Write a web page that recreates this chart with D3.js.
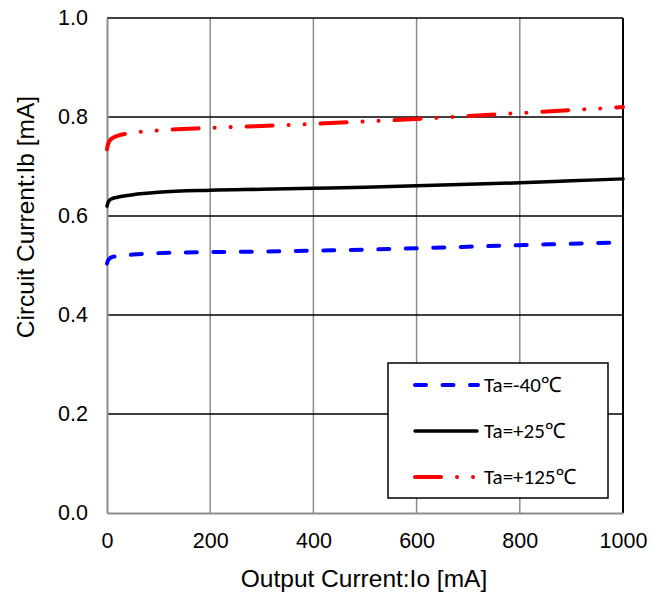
<!DOCTYPE html>
<html>
<head>
<meta charset="utf-8">
<script src="https://cdn.jsdelivr.net/npm/d3@7"></script>
<style>
  body { margin: 0; background: #fff; }
  svg { display: block; }
</style>
</head>
<body>
<div id="chart"></div>
<script>
const outputCurrent = [0, 2, 5, 10, 20, 50, 100, 200, 300, 400, 500, 600, 700, 800, 900, 1000];
const taMinus40 = [0.504, 0.510, 0.514, 0.517, 0.519, 0.522, 0.525, 0.527, 0.528, 0.530, 0.532, 0.535, 0.538, 0.541, 0.544, 0.547];
const taPlus25 = [0.620, 0.627, 0.632, 0.635, 0.638, 0.643, 0.648, 0.652, 0.654, 0.656, 0.658, 0.661, 0.664, 0.667, 0.671, 0.675];
const taPlus125 = [0.735, 0.745, 0.752, 0.757, 0.762, 0.768, 0.773, 0.778, 0.782, 0.786, 0.791, 0.796, 0.802, 0.808, 0.814, 0.820];
const seriesNames = ['Ta=-40\u2103', 'Ta=+25\u2103', 'Ta=+125\u2103'];
const xTicks = [0, 200, 400, 600, 800, 1000];
const yTicks = [0, 0.2, 0.4, 0.6, 0.8, 1.0];

const width = 665, height = 593;
const margin = { left: 107, right: 42, top: 18, bottom: 80 };
const chartWidth = width - margin.left - margin.right;
const chartHeight = height - margin.top - margin.bottom;

const AXIS_FONT = '"Liberation Sans", Arial, sans-serif';

const styles = [
  { color: '#0000ff', width: 4, dash: '11 16.5', cap: 'round' },
  { color: '#000000', width: 3.5, dash: null, cap: 'round' },
  { color: '#ff0000', width: 4, dash: '26 16 0.01 16 0.01 16', cap: 'round' }
];

const svg = d3.select('#chart')
  .append('svg')
  .attr('width', width)
  .attr('height', height);

const xScale = d3.scaleLinear().domain([0, 1000]).range([0, chartWidth]);
const yScale = d3.scaleLinear().domain([0, 1]).range([chartHeight, 0]);

const g = svg.append('g')
  .attr('transform', `translate(${margin.left},${margin.top})`);

// vertical grid (gray)
g.append('g')
  .selectAll('line')
  .data(xTicks.slice(1, -1))
  .enter()
  .append('line')
  .attr('x1', d => xScale(d)).attr('x2', d => xScale(d))
  .attr('y1', 0).attr('y2', chartHeight)
  .attr('stroke', '#8c8c8c').attr('stroke-width', 1.5);

// horizontal grid (black)
g.append('g')
  .selectAll('line')
  .data(yTicks.slice(1))
  .enter()
  .append('line')
  .attr('x1', 0).attr('x2', chartWidth)
  .attr('y1', d => yScale(d)).attr('y2', d => yScale(d))
  .attr('stroke', '#000').attr('stroke-width', 1.5);

// right border
g.append('line')
  .attr('x1', chartWidth).attr('x2', chartWidth)
  .attr('y1', 0).attr('y2', chartHeight)
  .attr('stroke', '#000').attr('stroke-width', 2);

// axes
const yAxis = d3.axisLeft(yScale)
  .tickValues(yTicks)
  .tickFormat(d3.format('.1f'))
  .tickSize(0)
  .tickPadding(19);

const xAxis = d3.axisBottom(xScale)
  .tickValues(xTicks)
  .tickFormat(d3.format('d'))
  .tickSize(0)
  .tickPadding(20);

const yAxisGroup = g.append('g').attr('class', 'axis axis-y').call(yAxis);
const xAxisGroup = g.append('g').attr('class', 'axis axis-x')
  .attr('transform', `translate(0,${chartHeight})`)
  .call(xAxis);

[yAxisGroup, xAxisGroup].forEach(axis => {
  axis.attr('font-family', AXIS_FONT).attr('font-size', 21.5);
  axis.select('.domain').attr('stroke', '#8c8c8c').attr('stroke-width', 2);
  axis.selectAll('text').attr('fill', '#000');
});

// series
const line = d3.line()
  .x((d, i) => xScale(outputCurrent[i]))
  .y(d => yScale(d))
  .curve(d3.curveMonotoneX);

[taMinus40, taPlus25, taPlus125].forEach((values, i) => {
  const s = styles[i];
  g.append('path')
    .datum(values)
    .attr('fill', 'none')
    .attr('stroke', s.color)
    .attr('stroke-width', s.width)
    .attr('stroke-linecap', s.cap)
    .attr('stroke-dasharray', s.dash)
    .attr('d', line);
});

// legend
const legend = svg.append('g').attr('transform', 'translate(388,363)');
legend.append('rect')
  .attr('width', 220).attr('height', 135)
  .attr('fill', '#fff').attr('stroke', '#000').attr('stroke-width', 1.5);

const legendRow = d3.scaleLinear().domain([0, 2]).range([22, 114]);

seriesNames.forEach((name, i) => {
  const s = styles[i];
  legend.append('line')
    .attr('x1', 27).attr('x2', i === 0 ? 90 : 89)
    .attr('y1', legendRow(i)).attr('y2', legendRow(i))
    .attr('stroke', s.color)
    .attr('stroke-width', s.width)
    .attr('stroke-linecap', s.cap)
    .attr('stroke-dasharray', s.dash);
  legend.append('text')
    .attr('x', 96).attr('y', legendRow(i))
    .attr('dy', '0.35em')
    .attr('font-family', 'Carlito, Lato, "Noto Sans", sans-serif')
    .attr('font-size', 21)
    .text(name);
});

// axis titles
svg.append('text')
  .attr('x', 364).attr('y', 587)
  .attr('text-anchor', 'middle')
  .attr('font-family', AXIS_FONT)
  .attr('font-size', 24.5)
  .text('Output Current:Io [mA]');

svg.append('text')
  .attr('transform', 'translate(34,217) rotate(-90)')
  .attr('text-anchor', 'middle')
  .attr('font-family', AXIS_FONT)
  .attr('font-size', 24.5)
  .text('Circuit Current:Ib [mA]');
</script>
</body>
</html>
